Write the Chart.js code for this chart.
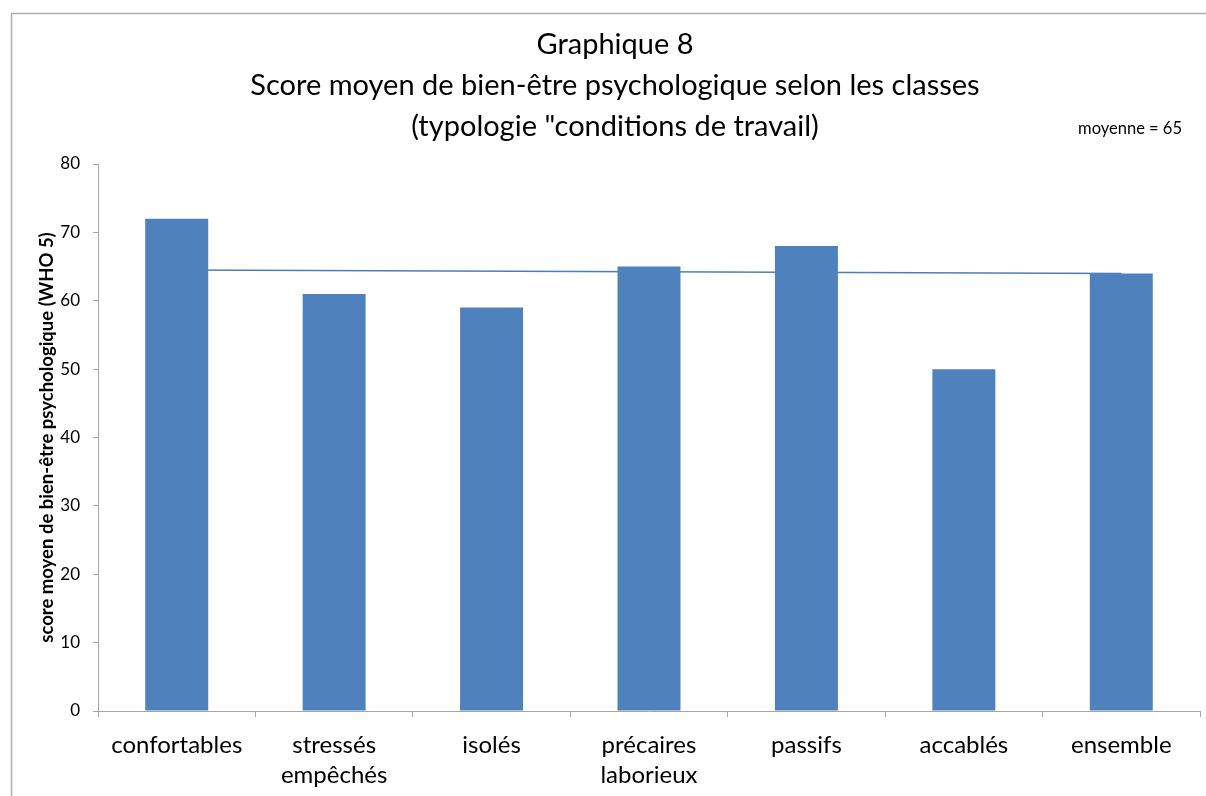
<!DOCTYPE html>
<html>
<head>
<meta charset="utf-8">
<script src="https://cdn.jsdelivr.net/npm/chart.js@4"></script>
<style>
  body { margin: 0; background: #fff; }
</style>
</head>
<body>
<canvas id="myChart" width="1206" height="796"></canvas>
<script>
const categories = [
  "confortables",
  ["stressés", "empêchés"],
  "isolés",
  ["précaires", "laborieux"],
  "passifs",
  "accablés",
  "ensemble",
];
const scores = [72, 61, 59, 65, 68, 50, 64];
// straight line drawn from first to last class
const trend = [64.5, null, null, null, null, null, 64.0];
const yTicks = [0, 10, 20, 30, 40, 50, 60, 70, 80];
const titleLines = [
  "Graphique 8",
  "Score moyen de bien-être psychologique selon les classes",
  '(typologie "conditions de travail)',
];
const note = "moyenne = 65";

const FONT = "Lato";

// frame, centred title and the small note at the top right
const frame = {
  id: "frame",
  beforeDraw(chart) {
    const ctx = chart.ctx;
    ctx.save();
    ctx.strokeStyle = "#b0b0b0";
    ctx.lineWidth = 1.5;
    ctx.beginPath();
    ctx.moveTo(11.5, 796);
    ctx.lineTo(11.5, 13.5);
    ctx.lineTo(1206, 13.5);
    ctx.stroke();

    ctx.fillStyle = "#000";
    ctx.textBaseline = "middle";
    ctx.textAlign = "center";
    ctx.font = "29px " + FONT;
    titleLines.forEach((t, i) => ctx.fillText(t, 615, 45 + i * 41));

    ctx.font = "16.5px " + FONT;
    ctx.textAlign = "right";
    ctx.fillText(note, 1182, 129);
    ctx.restore();
  },
};

const config = {
  type: "bar",
  data: {
    labels: categories,
    datasets: [
      {
        label: "score",
        data: scores,
        backgroundColor: "#4F81BD",
        barPercentage: 0.4,
        categoryPercentage: 1,
        order: 1,
      },
      {
        type: "line",
        label: "moyenne",
        data: trend,
        borderColor: "#4A7EBB",
        borderWidth: 1.5,
        pointRadius: 0,
        spanGaps: true,
        order: 2,
      },
    ],
  },
  options: {
    responsive: false,
    animation: false,
    layout: { padding: { left: 0, right: 6, top: 164, bottom: 0 } },
    plugins: {
      legend: { display: false },
      tooltip: { enabled: false },
      title: { display: false },
    },
    scales: {
      x: {
        afterFit: (s) => { s.height = 85; },
        grid: {
          offset: true,
          drawOnChartArea: false,
          drawTicks: true,
          tickLength: 6,
          color: "#a6a6a6",
        },
        border: { display: true, color: "#a6a6a6" },
        ticks: {
          color: "#000",
          padding: 13,
          maxRotation: 0,
          autoSkip: false,
          font: { family: FONT, size: 24, lineHeight: 1.25 },
        },
      },
      y: {
        min: 0,
        max: 80,
        afterFit: (s) => { s.width = 98; },
        afterBuildTicks: (s) => { s.ticks = yTicks.map((v) => ({ value: v })); },
        grid: {
          drawOnChartArea: false,
          drawTicks: true,
          tickLength: 5,
          color: "#a6a6a6",
        },
        border: { display: true, color: "#a6a6a6" },
        ticks: {
          color: "#000",
          padding: 13,
          font: { family: FONT, size: 17 },
        },
        title: {
          display: true,
          text: "score moyen de bien-être psychologique (WHO 5)",
          color: "#000",
          font: { family: FONT, size: 18.5, weight: "bold" },
          padding: { top: 36, bottom: 0 },
        },
      },
    },
  },
  plugins: [frame],
};

const myChart = new Chart(document.getElementById("myChart"), config);
</script>
</body>
</html>
